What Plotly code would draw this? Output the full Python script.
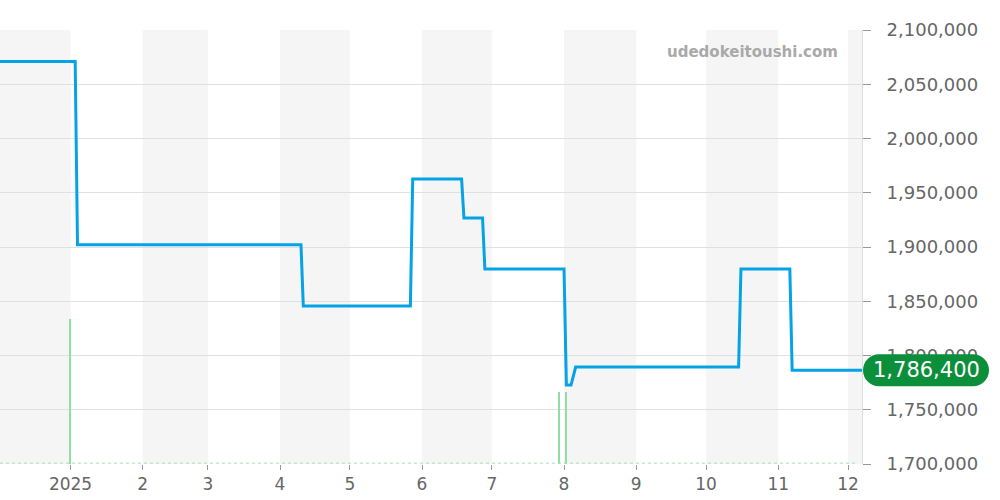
import pandas as pd
import plotly.graph_objects as go

# 価格推移
price_dates = [
    "2024-12-01", "2025-01-03", "2025-01-04", "2025-04-10", "2025-04-11",
    "2025-05-27", "2025-05-28", "2025-06-18", "2025-06-19", "2025-06-27",
    "2025-06-28", "2025-08-01", "2025-08-02", "2025-08-04", "2025-08-06",
    "2025-10-15", "2025-10-16", "2025-11-06", "2025-11-07", "2025-12-08",
]
price_values = [
    2071000, 2071000, 1902000, 1902000, 1845600,
    1845600, 1962700, 1962700, 1926700, 1926700,
    1879700, 1879700, 1772800, 1772800, 1789400,
    1789400, 1879700, 1879700, 1786400, 1786400,
]

# 出来高
volume_dates = ["2025-01-01", "2025-07-30", "2025-08-02"]
volume_values = [2, 1, 1]

tick_dates = pd.date_range("2025-01-01", "2025-12-01", freq="MS")
tick_labels = ["2025", "2", "3", "4", "5", "6", "7", "8", "9", "10", "11", "12"]

last_price = price_values[-1]

x_start = "2024-12-01 17:00"
x_end = "2025-12-07"

fig = go.Figure()

fig.add_trace(
    go.Bar(
        x=volume_dates,
        y=volume_values,
        yaxis="y2",
        width=0.45 * 86400000,
        marker=dict(color="#93dca4", line=dict(width=0)),
        hoverinfo="skip",
    )
)

fig.add_trace(
    go.Scatter(
        x=price_dates,
        y=price_values,
        mode="lines",
        line=dict(color="#05a3e6", width=3),
    )
)

# 月ごとの背景
months = pd.date_range("2024-12-01", "2026-01-01", freq="MS")
for i in range(len(months) - 1):
    if months[i].month % 2 == 0:
        fig.add_shape(
            type="rect", xref="x", yref="paper",
            x0=months[i], x1=months[i + 1], y0=0, y1=1,
            fillcolor="#f5f5f5", line=dict(width=0), layer="below",
        )

# 出来高のベースライン
fig.add_shape(
    type="line", xref="x", yref="paper",
    x0=x_start, x1="2025-12-04", y0=0.002, y1=0.002,
    line=dict(color="#a8e0b4", width=1, dash="dot"),
)

# 最新価格ラベル
k = 0.5523 * 16
pill = (
    f"M 17,-16 L 111,-16 C {111 + k},-16 127,{-k} 127,0 "
    f"C 127,{k} {111 + k},16 111,16 L 17,16 C {17 - k},16 1,{k} 1,0 "
    f"C 1,{-k} {17 - k},-16 17,-16 Z"
)
fig.add_shape(
    type="path", xref="paper", yref="y",
    xsizemode="pixel", ysizemode="pixel",
    xanchor=1, yanchor=last_price,
    path=pill, fillcolor="#0b8f3a", line=dict(width=0), layer="above",
)
fig.add_annotation(
    x=1, xref="paper", y=last_price, yref="y",
    xanchor="center", yanchor="middle",
    xshift=64, text=f"{last_price:,}", showarrow=False,
    font=dict(color="white", size=21, family="DejaVu Sans"),
)

fig.add_annotation(
    x=0.975, xref="paper", y=0.95, yref="paper",
    xanchor="right", yanchor="middle",
    text="<b>udedokeitoushi.com</b>", showarrow=False,
    font=dict(color="#a9a9a9", size=15, family="DejaVu Sans"),
)

fig.update_layout(
    width=1000,
    height=500,
    margin=dict(l=0, r=138, t=30, b=36),
    plot_bgcolor="white",
    paper_bgcolor="white",
    showlegend=False,
    bargap=0,
    font=dict(family="DejaVu Sans", color="#666666"),
    xaxis=dict(
        range=[x_start, x_end],
        tickvals=tick_dates,
        ticktext=tick_labels,
        showgrid=False,
        ticks="outside",
        ticklen=5,
        tickcolor="#999999",
        tickfont=dict(size=17, color="#666666"),
        zeroline=False,
    ),
    yaxis=dict(
        side="right",
        range=[1700000, 2100000],
        tickvals=[1700000, 1750000, 1800000, 1850000, 1900000, 1950000, 2000000, 2050000, 2100000],
        tickformat=",",
        showgrid=True,
        gridcolor="#e0e0e0",
        gridwidth=1,
        ticks="outside",
        ticklen=8,
        tickcolor="#999999",
        ticklabelstandoff=12,
        showline=True,
        linecolor="#dddddd",
        tickfont=dict(size=18, color="#666666"),
        zeroline=False,
    ),
    yaxis2=dict(
        overlaying="y",
        range=[0, 6],
        visible=False,
    ),
)

fig.write_html(
    "out.html",
    config={"displayModeBar": False},
    post_script="document.body.style.margin='0';",
)
